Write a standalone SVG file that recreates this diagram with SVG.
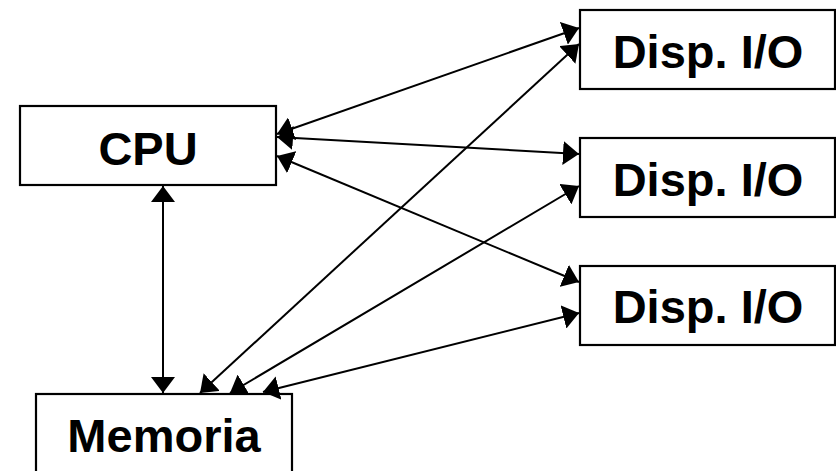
<svg xmlns="http://www.w3.org/2000/svg" width="836" height="471" viewBox="0 0 836 471">
<style>
.box{fill:#fff;stroke:#000;stroke-width:2.2}
.lbl{font-family:"Liberation Sans",Arial,sans-serif;font-weight:bold;font-size:47px;fill:#000;text-anchor:middle}
.con{stroke:#000;stroke-width:2;fill:none;marker-start:url(#ah);marker-end:url(#ah)}
</style>
<defs>
<marker id="ah" viewBox="0 0 16 24" refX="16" refY="12" markerWidth="16" markerHeight="24" markerUnits="userSpaceOnUse" orient="auto-start-reverse">
<path d="M0,0 L16,12 L0,24 z" fill="#000"/>
</marker>
</defs>
<rect width="836" height="471" fill="#fff"/>
<g id="cpu"><rect class="box" x="20" y="106" width="256" height="79"/><text class="lbl" x="148" y="165">CPU</text></g>
<g id="io1"><rect class="box" x="580" y="10" width="255" height="79"/><text class="lbl" x="708" y="68">Disp. I/O</text></g>
<g id="io2"><rect class="box" x="580" y="138" width="255" height="79"/><text class="lbl" x="708" y="196">Disp. I/O</text></g>
<g id="io3"><rect class="box" x="580" y="266" width="255" height="79"/><text class="lbl" x="708" y="323">Disp. I/O</text></g>
<g id="memoria"><rect class="box" x="36" y="394" width="256" height="79"/><text class="lbl" x="164" y="452">Memoria</text></g>
<g id="connectors">
<line class="con" x1="163" y1="186" x2="163" y2="393"/>
<line class="con" x1="277" y1="134" x2="579" y2="28"/>
<line class="con" x1="277" y1="137" x2="579" y2="154"/>
<line class="con" x1="277" y1="156" x2="579" y2="282"/>
<line class="con" x1="200" y1="393" x2="579" y2="44"/>
<line class="con" x1="230" y1="393" x2="579" y2="186"/>
<line class="con" x1="263" y1="392" x2="579" y2="313"/>
</g>
</svg>
